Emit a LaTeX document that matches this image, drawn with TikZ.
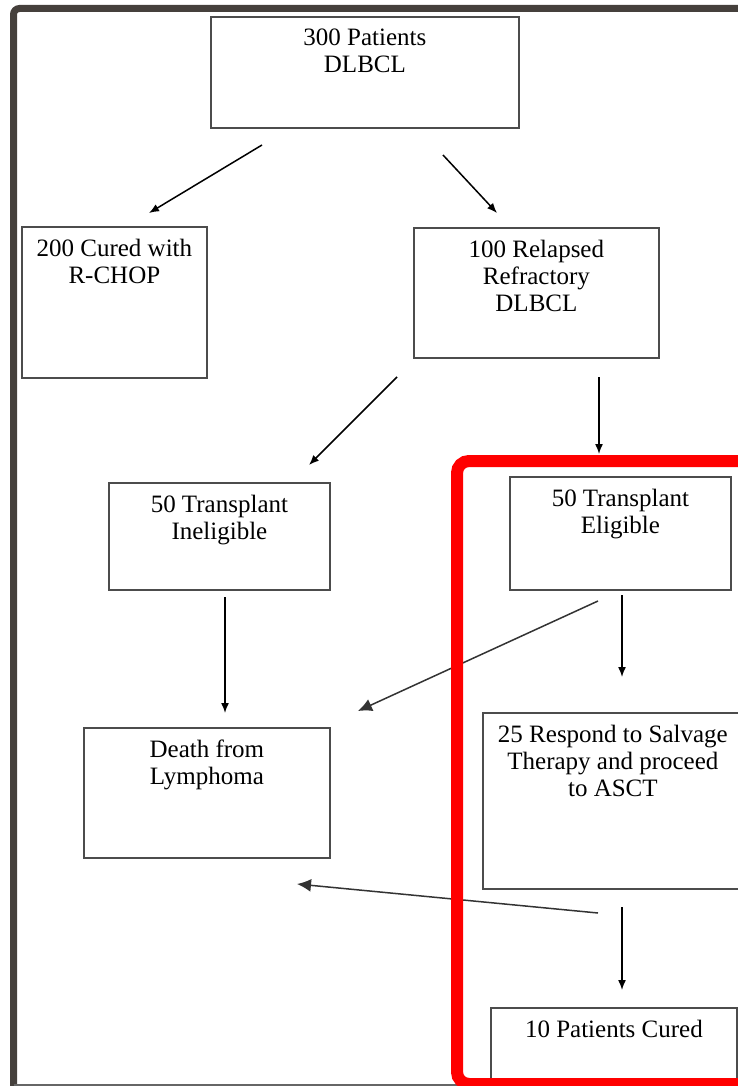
\documentclass[tikz,border=0pt]{standalone}
\usepackage{fontspec}
\setmainfont{Liberation Serif}
\usetikzlibrary{arrows.meta}

\definecolor{framegray}{HTML}{45403C}
\definecolor{marked}{HTML}{FF0000}

\tikzset{
  box/.style 2 args={draw=black!70, line width=0.9pt, inner sep=0pt, anchor=north west,
    execute at begin node={\begin{minipage}[t][\dimexpr#2pt/2\relax][t]{\dimexpr#1pt/2\relax}%
      \fontsize{12.5}{13.5}\selectfont\centering\vspace*{6pt}},
    execute at end node={\end{minipage}}},
  arr/.style={line width=0.75pt, -{Latex[length=5pt,width=4pt]}},
  bigarr/.style={line width=0.75pt, draw=black!80, -{Latex[length=7pt,width=6.5pt]}}
}

\begin{document}
\begin{tikzpicture}[x=0.5pt,y=-0.5pt]
  \useasboundingbox (0,0) rectangle (738,1086);
  \clip (0,0) rectangle (738,1086);

  % outer frame
  \draw[framegray, line width=3.5pt, rounded corners=3pt] (745,8.5) -- (13.5,8.5) -- (13.5,1092);
  \draw[black!60, line width=0.8pt] (13.5,1085) -- (745,1085);

  % boxes
  \node[box={308}{111}] (pts) at (210,16) {300 Patients\\DLBCL};
  \node[box={185}{151}] (rchop) at (21,226) {200 Cured with\\R-CHOP};
  \node[box={245}{130}] (relapsed) at (413,227) {100 Relapsed\\Refractory\\DLBCL};
  \node[box={221}{107}] (inelig) at (108,482) {50 Transplant\\Ineligible};
  \node[box={221}{113}] (elig) at (509,476) {50 Transplant\\Eligible};
  \node[box={246}{130}] (death) at (83,727) {Death from\\Lymphoma};
  \node[box={260}{176}] (salvage) at (482,712) {25 Respond to Salvage\\Therapy and proceed\\to ASCT};
  \node[box={246}{76}] (cured) at (490,1007) {10 Patients Cured};

  % arrow ends
  \coordinate (a1) at (262,145);  \coordinate (b1) at (149,213);
  \coordinate (a2) at (443,155);  \coordinate (b2) at (497,213);
  \coordinate (a3) at (397,377);  \coordinate (b3) at (309,465);
  \coordinate (a4) at (599,377);  \coordinate (b4) at (599,454);
  \coordinate (a5) at (225,597);  \coordinate (b5) at (225,713);
  \coordinate (a6) at (598,601);  \coordinate (b6) at (358,711);
  \coordinate (a7) at (622,595);  \coordinate (b7) at (622,677);
  \coordinate (a8) at (598,913);  \coordinate (b8) at (297,884);
  \coordinate (a9) at (622,907);  \coordinate (b9) at (622,990);

  \draw[arr] (a1) -- (b1);
  \draw[arr] (a2) -- (b2);
  \draw[arr] (a3) -- (b3);
  \draw[arr] (a4) -- (b4);
  \draw[arr] (a5) -- (b5);
  \draw[bigarr] (a6) -- (b6);
  \draw[arr] (a7) -- (b7);
  \draw[bigarr] (a8) -- (b8);
  \draw[arr] (a9) -- (b9);

  % red highlight
  \draw[marked, line width=6pt, rounded corners=6pt] (745,461) -- (457,461) -- (457,1084) -- (745,1084);
\end{tikzpicture}
\end{document}
